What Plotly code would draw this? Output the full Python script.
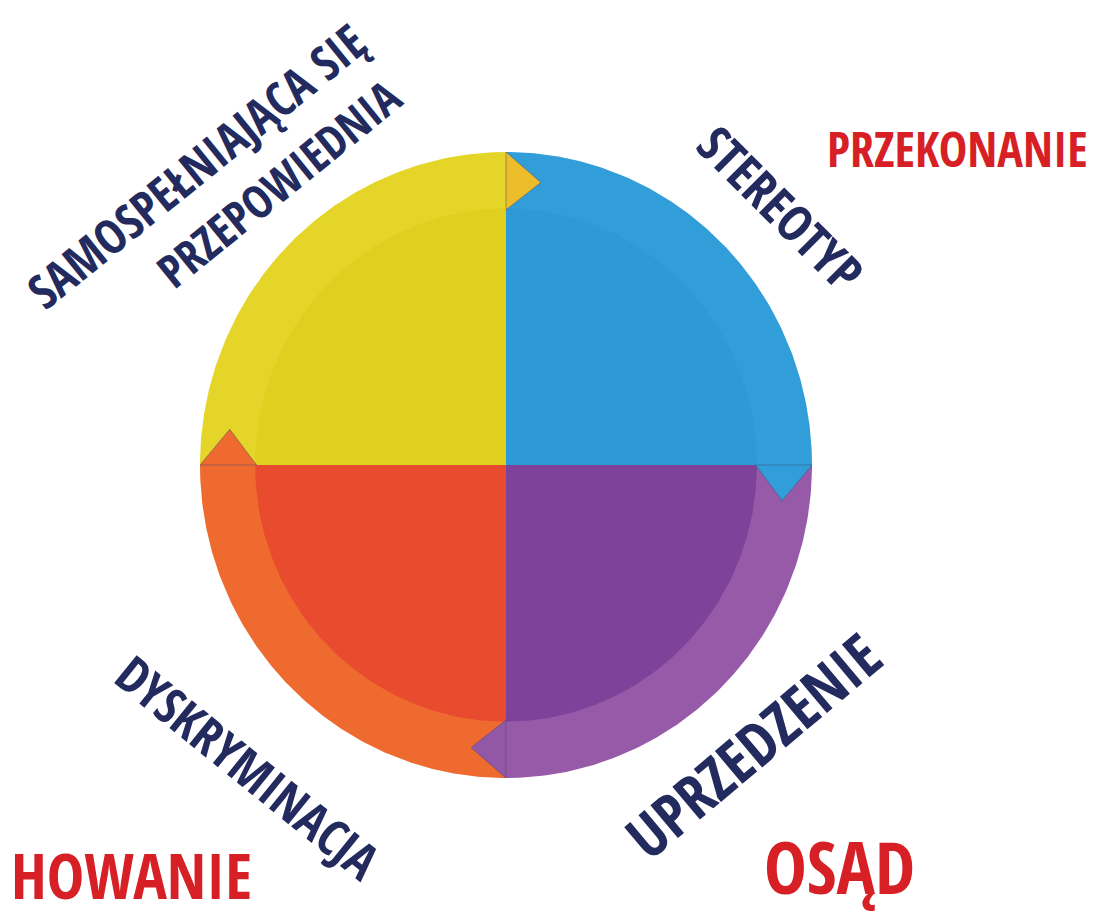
import numpy as np
import plotly.graph_objects as go

# ---------------- data ----------------
quadrants = ["STEREOTYP", "UPRZEDZENIE", "DYSKRYMINACJA", "SAMOSPEŁNIAJĄCA SIĘ PRZEPOWIEDNIA"]
shares = [25, 25, 25, 25]                     # equal quarters, clockwise from 12 o'clock
outer_colors = ["#319DD9", "#975AA8", "#EE6A2F", "#E4D528"]
inner_colors = ["#2E99D7", "#7F429B", "#E84B2D", "#E0CF1F"]
arrow_colors = ["#319DD9", "#9257A7", "#EE6A2F", "#EDBC2A"]

navy_labels = ["STEREOTYP", "UPRZEDZENIE", "DYSKRYMINACJA", "SAMOSPEŁNIAJĄCA SIĘ", "PRZEPOWIEDNIA"]
navy_angles = [45, -40, 39, -39, -39]
red_labels = ["PRZEKONANIE", "OSĄD", "HOWANIE"]

# ---------------- geometry ----------------
W, H = 1095, 918
OFF = 8  # page body margin
cx, cy, rx, ry = 506, 465, 306, 313
inner_frac = 0.82


def pt(r, ang_deg):
    a = np.radians(ang_deg)
    return cx + r * rx * np.cos(a), cy - r * ry * np.sin(a)


fig = go.Figure()

bounds = []
start = 90.0
for s in shares:
    end = start - 360.0 * s / sum(shares)
    bounds.append((start, end))
    start = end

for layer_r, cols in ((1.0, outer_colors), (inner_frac, inner_colors)):
    for (a0, a1), col in zip(bounds, cols):
        t = np.linspace(a0, a1, 120)
        xs, ys = pt(layer_r, t)
        xs = np.concatenate([[cx], xs, [cx]])
        ys = np.concatenate([[cy], ys, [cy]])
        fig.add_trace(go.Scatter(x=xs, y=ys, mode="lines", fill="toself",
                                 fillcolor=col, line=dict(width=0, color=col),
                                 hoverinfo="skip", showlegend=False))

# arrows at the end of each quadrant, pointing clockwise
for (a0, a1), col in zip(bounds, arrow_colors):
    bx0, by0 = pt(1.0, a1)
    bx1, by1 = pt(0.815, a1)
    tx, ty = pt(0.91, a1 - 7.2)
    fig.add_trace(go.Scatter(x=[bx0, tx, bx1, bx0], y=[by0, ty, by1, by0], mode="lines",
                             fill="toself", fillcolor=col,
                             line=dict(width=1, color="rgba(60,70,110,0.45)"),
                             hoverinfo="skip", showlegend=False))

FONT = "Open Sans Condensed, Roboto Condensed, DejaVu Sans Condensed, sans-serif"
NAVY = "#222A5E"
RED = "#D71F26"

navy_pos = [(781, 208, 50), (753, 745, 60), (248, 767, 50), (196, 165, 48), (278, 183, 46)]
for txt, ang, (x, y, sz) in zip(navy_labels, navy_angles, navy_pos):
    fig.add_annotation(x=x, y=y, xref="x", yref="y", text=txt, textangle=ang,
                       showarrow=False, xanchor="center", yanchor="middle",
                       font=dict(family=FONT, size=sz, color=NAVY, weight=700))

red_pos = [(957, 148, 48, "center"), (839, 866, 72, "center"), (9, 874, 63, "left")]
for txt, (x, y, sz, anc) in zip(red_labels, red_pos):
    fig.add_annotation(x=x, y=y, xref="x", yref="y", text=txt,
                       showarrow=False, xanchor=anc, yanchor="middle",
                       font=dict(family=FONT, size=sz, color=RED, weight=700))

fig.update_layout(
    width=W, height=H, margin=dict(l=0, r=0, t=0, b=0),
    paper_bgcolor="white", plot_bgcolor="white",
    xaxis=dict(range=[OFF, W + OFF], visible=False, fixedrange=True),
    yaxis=dict(range=[H + OFF, OFF], visible=False, fixedrange=True),
    showlegend=False,
)

fig.write_html("out.html")
